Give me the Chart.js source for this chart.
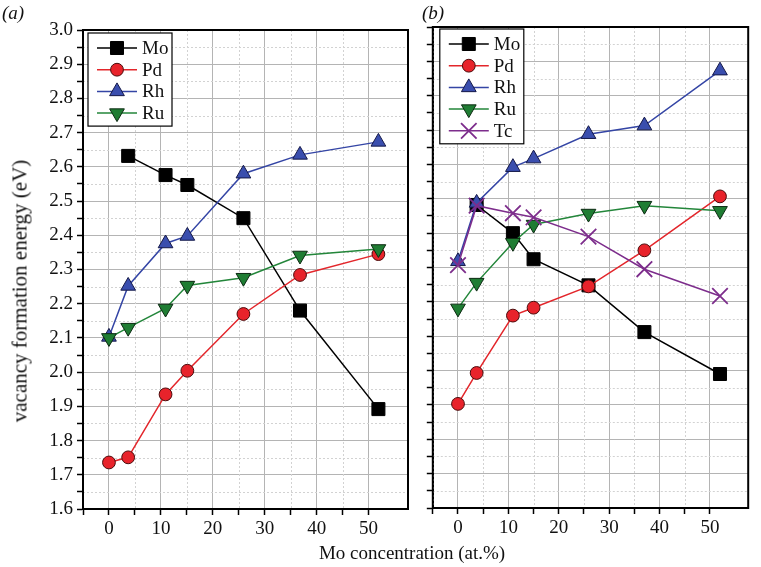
<!DOCTYPE html>
<html>
<head>
<meta charset="utf-8">
<script src="https://cdn.jsdelivr.net/npm/chart.js@4.4.0/dist/chart.umd.min.js"></script>
<style>
body{margin:0;background:#fff;width:761px;height:567px;position:relative;overflow:hidden;font-family:"Liberation Serif",serif;color:#111}
#wa{position:absolute;left:0;top:0;width:420px;height:567px}
#wb{position:absolute;left:420px;top:0;width:341px;height:567px}
.lab{position:absolute;font-size:19px;font-style:italic;line-height:1}
#ytitle{position:absolute;left:20px;top:291px;transform:translate(-50%,-50%) rotate(-90deg);white-space:nowrap;font-size:21px}
#xtitle{position:absolute;left:412px;top:553px;transform:translate(-50%,-50%);white-space:nowrap;font-size:19px}
</style>
</head>
<body>
<div id="wa"><canvas id="ca"></canvas></div>
<div id="wb"><canvas id="cb"></canvas></div>
<div class="lab" style="left:2px;top:3px">(a)</div>
<div class="lab" style="left:422px;top:3px">(b)</div>
<div id="ytitle">vacancy formation energy (eV)</div>
<div id="xtitle">Mo concentration (at.%)</div>
<script>
// Mo concentration (at.%) at which each energy was computed
var concA = [0, 3.7, 10.9, 15.1, 25.9, 36.8, 51.9];
var concB = [0, 3.7, 10.9, 15.0, 25.9, 37.0, 52.0];

// panel (a)
var moA = [null, 2.632, 2.576, 2.547, 2.450, 2.180, 1.892];
var pdA = [1.736, 1.751, 1.935, 2.004, 2.170, 2.284, 2.345];
var rhA = [2.103, 2.252, 2.376, 2.398, 2.580, 2.635, 2.673];
var ruA = [2.100, 2.130, 2.186, 2.253, 2.276, 2.341, 2.360];

// panel (b)
var moB = [null, 2.482, 2.400, 2.324, 2.248, 2.112, 1.990];
var pdB = [1.903, 1.993, 2.160, 2.183, 2.245, 2.350, 2.507];
var rhB = [2.318, 2.488, 2.592, 2.617, 2.688, 2.713, 2.873];
var ruB = [2.181, 2.256, 2.372, 2.425, 2.457, 2.480, 2.465];
var tcB = [2.307, 2.480, 2.458, 2.446, 2.390, 2.295, 2.217];

var xTicks = [0, 10, 20, 30, 40, 50];
var yTicks = [1.6, 1.7, 1.8, 1.9, 2.0, 2.1, 2.2, 2.3, 2.4, 2.5, 2.6, 2.7, 2.8, 2.9, 3.0];

var estilos = {
    Mo: {line: '#000000', fill: '#000000', edge: '#000000', shape: 'rect', r: 9.2, rot: 0},
    Pd: {line: '#e3262b', fill: '#e8232b', edge: '#4a0c0c', shape: 'circle', r: 6.4, rot: 0},
    Rh: {line: '#3445a5', fill: '#3a4eae', edge: '#141848', shape: 'triangle', r: 8.5, rot: 0},
    Ru: {line: '#23863a', fill: '#1f7d33', edge: '#0c2a12', shape: 'triangle', r: 8.5, rot: 180},
    Tc: {line: '#7d2d8c', fill: '#7d2d8c', edge: '#7d2d8c', shape: 'crossRot', r: 11, rot: 0}
};

function pontos(xs, ys){
    var out = [];
    for (var i = 0; i < xs.length; i++) {
        if (ys[i] !== null) out.push({x: xs[i], y: ys[i]});
    }
    return out;
}

// later series are drawn on top, as in the original figure
function serie(nome, xs, ys, ordem){
    var e = estilos[nome];
    return {
        label: nome,
        data: pontos(xs, ys),
        order: ordem,
        borderColor: e.line,
        borderWidth: 1.5,
        pointStyle: e.shape,
        pointRotation: e.rot,
        pointRadius: e.r,
        pointHoverRadius: e.r,
        pointBackgroundColor: e.fill,
        pointBorderColor: e.edge,
        pointBorderWidth: nome == 'Tc' ? 1.8 : 1,
        fill: false,
        tension: 0
    };
}

function ehMenor(v, passo){
    return Math.abs(Math.round(v / passo) * passo - v) > 1e-6;
}

var fonte = {family: '"Liberation Serif", serif', size: 19};

function eixos(comRotulos, larguraY, alturaX){
    return {
        x: {
            type: 'linear',
            min: -5,
            max: 57.6,
            afterBuildTicks: function(s){
                s.ticks = s.ticks.filter(function(t){ return !ehMenor(t.value, 5); });
            },
            afterFit: function(s){ s.height = alturaX; },
            ticks: {
                stepSize: 5,
                padding: 3,
                color: '#111',
                font: fonte,
                maxRotation: 0,
                autoSkip: false,
                callback: function(v){ return xTicks.indexOf(v) >= 0 ? String(v) : ''; }
            },
            grid: {
                color: function(c){ return c.tick && ehMenor(c.tick.value, 10) ? 'rgba(0,0,0,0)' : '#b4b4b4'; },
                lineWidth: 1,
                tickColor: '#000',
                tickLength: 6,
                tickWidth: 1.5
            },
            border: {color: '#000', width: 2}
        },
        y: {
            type: 'linear',
            min: 1.6,
            max: 3.0,
            afterFit: function(s){ s.width = larguraY; },
            ticks: {
                stepSize: 0.05,
                padding: 4,
                color: '#111',
                font: fonte,
                autoSkip: false,
                callback: function(v){
                    if (!comRotulos) return '';
                    for (var i = 0; i < yTicks.length; i++) {
                        if (Math.abs(yTicks[i] - v) < 1e-6) return yTicks[i].toFixed(1);
                    }
                    return '';
                }
            },
            grid: {
                color: function(c){ return c.tick && ehMenor(c.tick.value, 0.1) ? 'rgba(0,0,0,0)' : '#b4b4b4'; },
                lineWidth: 1,
                tickColor: '#000',
                tickLength: 6,
                tickWidth: 1.5
            },
            border: {color: '#000', width: 2}
        }
    };
}

// linhas menores pontilhadas (5 at.% e 0.05 eV)
var gradeMenor = {
    id: 'gradeMenor',
    beforeDatasetsDraw: function(chart){
        var a = chart.chartArea, ctx = chart.ctx;
        var sx = chart.scales.x, sy = chart.scales.y;
        ctx.save();
        ctx.strokeStyle = '#d2d2d2';
        ctx.lineWidth = 1;
        ctx.setLineDash([2, 2]);
        sx.ticks.forEach(function(t){
            if (!ehMenor(t.value, 10)) return;
            var px = Math.round(sx.getPixelForValue(t.value)) + 0.5;
            ctx.beginPath(); ctx.moveTo(px, a.top); ctx.lineTo(px, a.bottom); ctx.stroke();
        });
        sy.ticks.forEach(function(t){
            if (!ehMenor(t.value, 0.1)) return;
            var py = Math.round(sy.getPixelForValue(t.value)) + 0.5;
            ctx.beginPath(); ctx.moveTo(a.left, py); ctx.lineTo(a.right, py); ctx.stroke();
        });
        ctx.restore();
    }
};

// moldura preta em volta da area do grafico
var moldura = {
    id: 'moldura',
    afterDraw: function(chart){
        var a = chart.chartArea, ctx = chart.ctx;
        ctx.save();
        ctx.strokeStyle = '#000';
        ctx.lineWidth = 2;
        ctx.strokeRect(a.left, a.top, a.right - a.left, a.bottom - a.top);
        ctx.restore();
    }
};

function legendaCaixa(dx, dy, largura){
    return {
        id: 'legendaCaixa',
        afterDraw: function(chart){
            var a = chart.chartArea, ctx = chart.ctx;
            var sets = chart.data.datasets;
            var x0 = a.left + dx, y0 = a.top + dy;
            var passo = 21.7;
            var altura = 15 + (sets.length - 1) * passo + 13;
            ctx.save();
            ctx.fillStyle = '#fff';
            ctx.fillRect(x0, y0, largura, altura);
            ctx.strokeStyle = '#000';
            ctx.lineWidth = 1.2;
            ctx.strokeRect(x0, y0, largura, altura);
            for (var i = 0; i < sets.length; i++) {
                var d = sets[i];
                var e = estilos[d.label];
                var yy = y0 + 15 + i * passo;
                ctx.strokeStyle = e.line;
                ctx.lineWidth = 1.5;
                ctx.beginPath();
                ctx.moveTo(x0 + 9, yy);
                ctx.lineTo(x0 + 49, yy);
                ctx.stroke();
                ctx.fillStyle = e.fill;
                ctx.strokeStyle = e.edge;
                ctx.lineWidth = d.pointBorderWidth;
                Chart.helpers.drawPoint(ctx, {pointStyle: e.shape, rotation: e.rot, radius: e.r, borderWidth: d.pointBorderWidth}, x0 + 29, yy);
                ctx.fillStyle = '#111';
                ctx.font = '19px "Liberation Serif", serif';
                ctx.textBaseline = 'middle';
                ctx.textAlign = 'left';
                ctx.fillText(d.label, x0 + 54, yy + 1);
            }
            ctx.restore();
        }
    };
}

function criarPainel(el, sets, comRotulos, larguraY, alturaX, pad, leg){
    return new Chart(el, {
        type: 'line',
        data: {datasets: sets},
        options: {
            responsive: true,
            maintainAspectRatio: false,
            animation: false,
            layout: {padding: pad},
            plugins: {legend: {display: false}, tooltip: {enabled: false}},
            scales: eixos(comRotulos, larguraY, alturaX)
        },
        plugins: [gradeMenor, moldura, leg]
    });
}

var chartA = criarPainel(document.getElementById('ca'), [
    serie('Mo', concA, moA, 4),
    serie('Pd', concA, pdA, 3),
    serie('Rh', concA, rhA, 2),
    serie('Ru', concA, ruA, 1)
], true, 83, 58, {top: 30, right: 12, left: 0, bottom: 0}, legendaCaixa(5, 3, 84));

var chartB = criarPainel(document.getElementById('cb'), [
    serie('Mo', concB, moB, 5),
    serie('Pd', concB, pdB, 4),
    serie('Rh', concB, rhB, 3),
    serie('Ru', concB, ruB, 2),
    serie('Tc', concB, tcB, 1)
], false, 12, 59, {top: 27, right: 4, left: 0, bottom: 0}, legendaCaixa(7, 2, 84));
</script>
</body>
</html>
